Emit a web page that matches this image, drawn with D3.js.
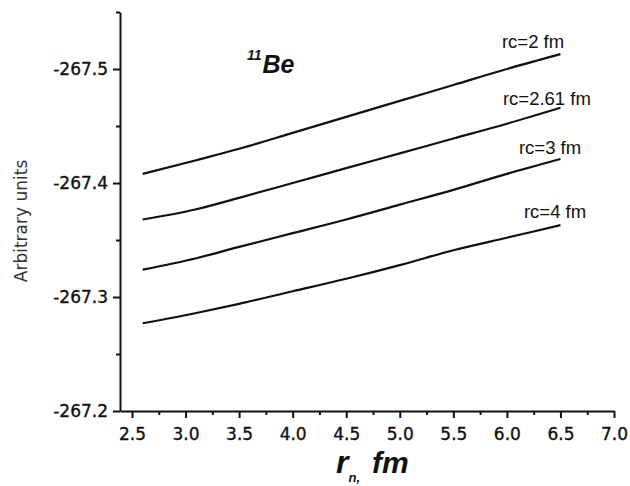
<!DOCTYPE html>
<html>
<head>
<meta charset="utf-8">
<script src="https://cdn.jsdelivr.net/npm/d3@7"></script>
<style>
  html, body { margin: 0; padding: 0; background: #fff; }
  svg { display: block; }
</style>
</head>
<body>
<svg id="chart" width="630" height="486"></svg>
<script>
// ---- data ----
const xValues = [2.6, 3.1, 3.5, 4.0, 4.5, 5.0, 5.5, 6.0, 6.5];
const rc2   = [-267.408, -267.420, -267.430, -267.444, -267.458, -267.472, -267.486, -267.500, -267.513];
const rc261 = [-267.368, -267.377, -267.387, -267.400, -267.413, -267.426, -267.439, -267.452, -267.466];
const rc3   = [-267.324, -267.334, -267.344, -267.356, -267.368, -267.381, -267.394, -267.408, -267.421];
const rc4   = [-267.277, -267.286, -267.294, -267.305, -267.316, -267.328, -267.341, -267.352, -267.363];
const seriesNames = ["rc=2 fm", "rc=2.61 fm", "rc=3 fm", "rc=4 fm"];
const seriesValues = [rc2, rc261, rc3, rc4];
const xTickValues = [2.5, 3.0, 3.5, 4.0, 4.5, 5.0, 5.5, 6.0, 6.5, 7.0];
const xMinorTicks = [2.75, 3.25, 3.75, 4.25, 4.75, 5.25, 5.75, 6.25, 6.75];
const yTickValues = [-267.2, -267.3, -267.4, -267.5];
const yMinorTicks = [-267.25, -267.35, -267.45, -267.55];

// ---- layout ----
const svg = d3.select("#chart");
const x = d3.scaleLinear().domain([2.388, 7.0]).range([120, 614]);
const y = d3.scaleLinear().domain([-267.2, -267.55]).range([411, 12]);

const tickFont = "'DejaVu Sans', sans-serif";
const fmt = d => d.toFixed(1); // plain hyphen-minus as in the reference

// X axis
const gx = svg.append("g").attr("transform", `translate(0,${y(-267.2)})`);
gx.call(d3.axisBottom(x).tickValues(xTickValues).tickFormat(fmt)
  .tickSize(7).tickSizeOuter(0).tickPadding(10));
const gxm = svg.append("g").attr("transform", `translate(0,${y(-267.2)})`);
gxm.call(d3.axisBottom(x).tickValues(xMinorTicks).tickFormat("").tickSize(4).tickSizeOuter(0));
gxm.select(".domain").remove();

// Y axis
const gy = svg.append("g").attr("transform", `translate(${x(2.388)},0)`);
gy.call(d3.axisLeft(y).tickValues(yTickValues).tickFormat(fmt)
  .tickSize(7).tickSizeOuter(0).tickPadding(5));
const gym = svg.append("g").attr("transform", `translate(${x(2.388)},0)`);
gym.call(d3.axisLeft(y).tickValues(yMinorTicks).tickFormat("").tickSize(4).tickSizeOuter(0));
gym.select(".domain").remove();

svg.selectAll(".domain, .tick line").attr("stroke", "#111").attr("stroke-width", 2);
svg.selectAll(".tick text")
  .attr("font-family", tickFont).attr("font-size", 17).attr("fill", "#111")
  .attr("stroke", "#111").attr("stroke-width", 0.35);

// Lines
const line = d3.line().x((d, i) => x(xValues[i])).y(d => y(d)).curve(d3.curveMonotoneX);
svg.append("g").selectAll("path").data(seriesValues).join("path")
  .attr("d", d => line(d))
  .attr("fill", "none").attr("stroke", "#111").attr("stroke-width", 2.2)
  .attr("stroke-linejoin", "round").attr("stroke-linecap", "butt");

// Series labels
const labelOffsets = [[-58.5, -6], [-57.5, -3], [-41.5, -5], [-36.5, -7]];
svg.append("g").selectAll("text").data(seriesNames).join("text")
  .attr("x", (d, i) => x(xValues[xValues.length - 1]) + labelOffsets[i][0])
  .attr("y", (d, i) => y(seriesValues[i][seriesValues[i].length - 1]) + labelOffsets[i][1])
  .attr("font-family", "'Liberation Sans', Arial, sans-serif")
  .attr("font-size", 18.5).attr("fill", "#111")
  .text(d => d);

// 11Be annotation
const be = svg.append("text").attr("x", 247).attr("y", 73)
  .attr("font-family", "'Liberation Sans', Arial, sans-serif")
  .attr("font-weight", "bold").attr("font-style", "italic").attr("fill", "#111");
be.append("tspan").attr("font-size", 14).attr("dy", -13).text("11");
be.append("tspan").attr("font-size", 25).attr("dy", 13).attr("dx", 1).text("Be");

// Y axis title
svg.append("text")
  .attr("transform", "translate(27,221) rotate(-90)")
  .attr("text-anchor", "middle")
  .attr("font-family", tickFont).attr("font-size", 17).attr("fill", "#333")
  .text("Arbitrary units");

// X axis title
const xt = svg.append("text").attr("x", 336).attr("y", 473)
  .attr("font-family", "'Liberation Sans', Arial, sans-serif")
  .attr("font-weight", "bold").attr("font-style", "italic").attr("fill", "#111");
xt.append("tspan").attr("font-size", 32).text("r");
xt.append("tspan").attr("font-size", 13).attr("dy", 9).text("n,");
xt.append("tspan").attr("font-size", 30).attr("dy", -9).attr("dx", 12).text("fm");
</script>
</body>
</html>
